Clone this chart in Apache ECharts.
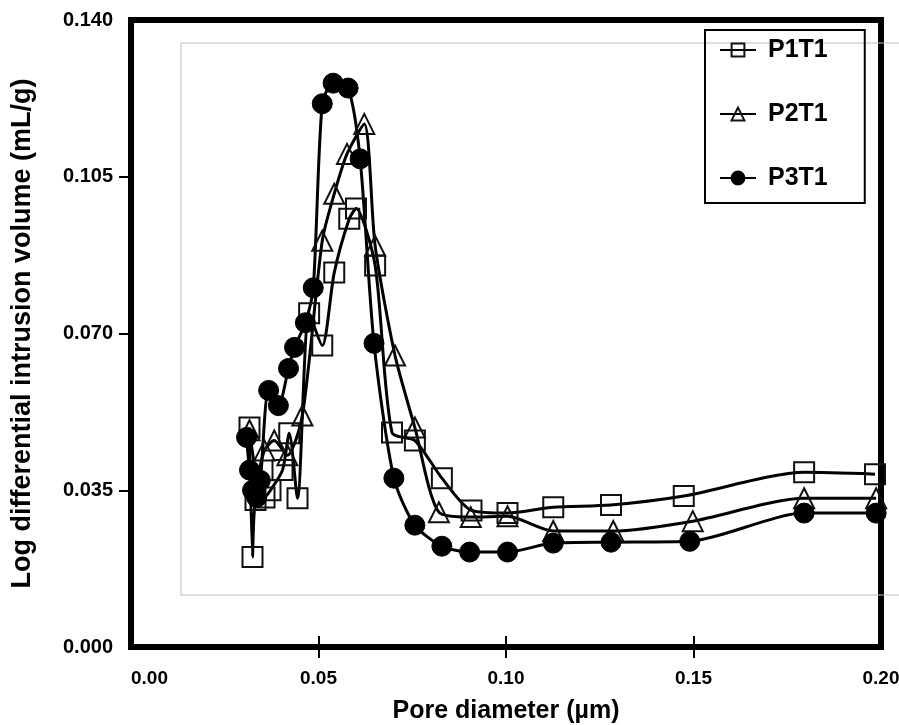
<!DOCTYPE html>
<html>
<head>
<meta charset="utf-8">
<script src="https://cdn.jsdelivr.net/npm/echarts@6/dist/echarts.min.js"></script>
<style>
html,body{margin:0;padding:0;background:#fff;}
#chart{width:899px;height:725px;}
</style>
</head>
<body>
<div id="chart"></div>
<script>
// ---- data (pore diameter µm, log differential intrusion mL/g) ----
const seriesNames = ['P1T1', 'P2T1', 'P3T1'];
const xTicks = [0.05, 0.10, 0.15];
const yTicks = [0.035, 0.070, 0.105];

const p1t1_x = [0.0316,0.0324,0.0332,0.0356,0.0372,0.0404,0.0422,0.0444,0.0475,0.0510,0.0542,0.0582,0.0600,0.0651,0.0696,0.0757,0.0829,0.0908,0.1004,0.1126,0.1280,0.1474,0.1795,0.1984];
const p1t1_y = [0.0490,0.0201,0.0328,0.0334,0.0350,0.0395,0.0477,0.0332,0.0745,0.0673,0.0836,0.0956,0.0979,0.0852,0.0479,0.0461,0.0377,0.0305,0.0299,0.0312,0.0317,0.0337,0.0390,0.0386];

const p2t1_x = [0.0316,0.0337,0.0356,0.0382,0.0417,0.0457,0.0510,0.0542,0.0576,0.0622,0.0651,0.0704,0.0757,0.0821,0.0906,0.1004,0.1126,0.1286,0.1498,0.1795,0.1987];
const p2t1_y = [0.0484,0.0383,0.0439,0.0461,0.0428,0.0517,0.0907,0.1012,0.1101,0.1168,0.0896,0.0651,0.0490,0.0301,0.0290,0.0292,0.0259,0.0259,0.0281,0.0332,0.0332];

const p3t1_x = [0.0308,0.0316,0.0324,0.0335,0.0345,0.0367,0.0393,0.0420,0.0436,0.0465,0.0486,0.0510,0.0539,0.0579,0.0611,0.0648,0.0701,0.0757,0.0829,0.0903,0.1004,0.1126,0.1280,0.1490,0.1795,0.1987];
const p3t1_y = [0.0468,0.0395,0.0350,0.0334,0.0372,0.0573,0.0539,0.0622,0.0669,0.0724,0.0802,0.1213,0.1259,0.1248,0.1090,0.0678,0.0377,0.0272,0.0225,0.0212,0.0212,0.0232,0.0234,0.0236,0.0299,0.0299];

const zip = (xs, ys) => xs.map((x, i) => [x, ys[i]]);

const FONT = '"Liberation Sans", Arial, sans-serif';

const chart = echarts.init(document.getElementById('chart'), null, {renderer: 'canvas'});

const common = {
  type: 'line',
  smooth: 0.25,
  symbolSize: 20,
  lineStyle: {color: '#000', width: 3},
  emphasis: {disabled: true},
  z: 3
};

chart.setOption({
  animation: false,
  backgroundColor: '#fff',
  grid: {left: 131, right: 18, top: 20, bottom: 78, show: true, borderColor: '#000', borderWidth: 6,
         containLabel: false, outerBoundsMode: 'none'},
  graphic: [{
    type: 'rect', z: 0, silent: true,
    shape: {x: 181, y: 43, width: 760, height: 552},
    style: {fill: 'none', stroke: '#bdbdbd', lineWidth: 1}
  }],
  legend: {
    left: 705, top: 30, orient: 'vertical',
    data: seriesNames,
    itemWidth: 36, itemHeight: 16, itemGap: 38,
    padding: [7, 37, 12, 14],
    borderColor: '#000', borderWidth: 2,
    textStyle: {fontFamily: FONT, fontWeight: 'bold', fontSize: 25, color: '#000', lineHeight: 26, padding: [0, 0, 0, 7]}
  },
  xAxis: [{
    type: 'value', min: 0, max: 0.2, interval: 0.05,
    axisLine: {show: true, lineStyle: {color: '#000', width: 6}},
    axisTick: {show: true, length: 11, customValues: xTicks, lineStyle: {color: '#000', width: 2}},
    splitLine: {show: false},
    axisLabel: {
      margin: 22, fontFamily: FONT, fontWeight: 'bold', fontSize: 19, color: '#000',
      formatter: v => v.toFixed(2), alignMinLabel: 'left'
    },
    name: 'Pore diameter (µm)', nameLocation: 'middle', nameGap: 52,
    nameTextStyle: {fontFamily: FONT, fontWeight: 'bold', fontSize: 25, color: '#000'}
  }, {
    type: 'value', min: 0, max: 0.2, interval: 0.05, position: 'bottom',
    axisLine: {show: false},
    axisTick: {show: true, inside: true, length: 11, customValues: xTicks, lineStyle: {color: '#000', width: 2}},
    axisLabel: {show: false},
    splitLine: {show: false}
  }],
  yAxis: {
    type: 'value', min: 0, max: 0.14, interval: 0.035,
    axisLine: {show: true, lineStyle: {color: '#000', width: 6}},
    axisTick: {show: true, length: 12, customValues: yTicks, lineStyle: {color: '#000', width: 2}},
    splitLine: {show: false},
    axisLabel: {
      margin: 18, fontFamily: FONT, fontWeight: 'bold', fontSize: 20, color: '#000',
      formatter: v => v.toFixed(3)
    },
    name: 'Log differential intrusion volume (mL/g)', nameLocation: 'middle', nameGap: 95,
    nameTextStyle: {fontFamily: FONT, fontWeight: 'bold', fontSize: 27, color: '#000'}
  },
  series: [
    Object.assign({}, common, {
      name: 'P1T1', symbol: 'rect', data: zip(p1t1_x, p1t1_y),
      itemStyle: {color: 'rgba(255,255,255,0)', borderColor: '#111', borderWidth: 2}
    }),
    Object.assign({}, common, {
      name: 'P2T1', symbol: 'triangle', data: zip(p2t1_x, p2t1_y),
      itemStyle: {color: 'rgba(255,255,255,0)', borderColor: '#111', borderWidth: 2}
    }),
    Object.assign({}, common, {
      name: 'P3T1', symbol: 'circle', data: zip(p3t1_x, p3t1_y),
      itemStyle: {color: '#000', borderColor: '#000', borderWidth: 1}
    })
  ]
});
</script>
</body>
</html>
